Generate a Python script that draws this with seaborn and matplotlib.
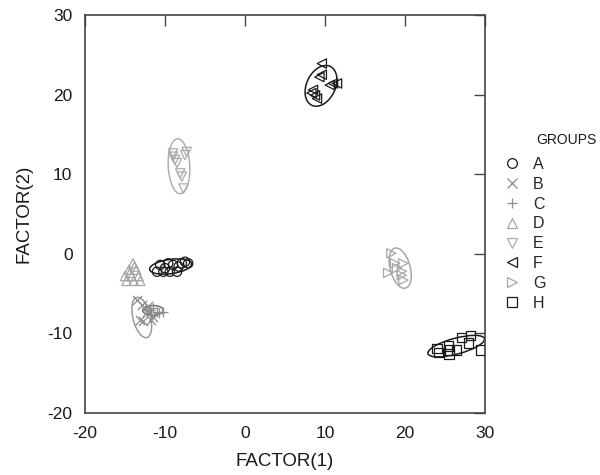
import matplotlib
matplotlib.use("Agg")
import matplotlib.pyplot as plt
from matplotlib.patches import Ellipse
from matplotlib.lines import Line2D
import seaborn as sns
import pandas as pd

# ---- data ----
groups = ["A", "B", "C", "D", "E", "F", "G", "H"]

a_x = [-11.0, -10.6, -10.0, -9.4, -9.0, -8.3, -7.9, -7.5, -7.1, -8.5, -10.2, -9.6]
a_y = [-2.25, -1.4, -1.8, -2.25, -1.4, -1.6, -1.2, -1.0, -1.2, -2.25, -2.25, -1.2]
b_x = [-13.5, -12.9, -13.1, -12.7, -11.7, -11.5, -12.1, -12.3]
b_y = [-5.8, -6.4, -8.3, -8.5, -8.3, -7.9, -6.6, -7.3]
c_x = [-11.9, -11.0, -10.2, -11.5, -11.7, -10.8]
c_y = [-7.1, -7.3, -7.3, -6.8, -7.7, -7.5]
d_x = [-14.0, -14.5, -13.6, -15.0, -14.2, -13.3, -14.8, -13.9, -13.1, -14.4, -13.8]
d_y = [-1.2, -2.0, -2.0, -2.8, -2.8, -2.8, -3.4, -3.4, -3.4, -2.4, -1.6]
e_x = [-9.0, -8.75, -7.3, -7.5, -8.5, -8.1, -7.9, -7.7, -9.0]
e_y = [12.2, 11.8, 12.8, 12.4, 11.4, 10.1, 9.7, 8.2, 12.6]
f_x = [9.6, 9.6, 9.3, 10.6, 11.0, 11.5, 8.5, 8.75, 9.0, 8.3]
f_y = [23.9, 22.5, 22.2, 21.2, 21.4, 21.4, 20.6, 19.9, 19.5, 20.2]
g_x = [18.3, 18.75, 19.8, 19.0, 17.9, 19.6, 19.8, 19.6]
g_y = [0.06, -1.2, -1.2, -1.8, -2.4, -2.7, -3.3, -2.2]
h_x = [24.0, 24.2, 25.4, 25.5, 26.4, 27.1, 28.2, 27.9, 29.4, 25.6]
h_y = [-11.9, -12.4, -11.6, -12.6, -12.1, -10.5, -10.3, -11.2, -12.1, -12.1]

# ellipses: group, center x, center y, major, minor, angle
ell_group = ["A", "B", "C", "E", "F", "G", "H"]
ell_cx = [-9.3, -12.9, -11.5, -8.25, 9.5, 19.4, 26.4]
ell_cy = [-1.6, -8.0, -7.1, 11.0, 21.1, -1.8, -11.6]
ell_w = [5.3, 5.2, 2.6, 6.9, 5.4, 5.2, 7.3]
ell_h = [1.8, 2.2, 1.2, 2.7, 3.6, 2.5, 2.0]
ell_ang = [8, 104, 0, 93, 65, 105, 15]

xticks = [-20, -10, 0, 10, 20, 30]
yticks = [-20, -10, 0, 10, 20, 30]

# ---- styles ----
markers = {"A": "o", "B": "x", "C": "+", "D": "^", "E": "v", "F": "<", "G": ">", "H": "s"}
colors = {"A": "#1a1a1a", "B": "#8c8c8c", "C": "#8c8c8c", "D": "#a6a6a6",
          "E": "#ababab", "F": "#1a1a1a", "G": "#a6a6a6", "H": "#1a1a1a"}
ell_colors = {"A": "#1a1a1a", "B": "#9a9a9a", "C": "#6e6e6e", "E": "#b0b0b0",
              "F": "#1a1a1a", "G": "#a6a6a6", "H": "#1a1a1a"}

xs = [a_x, b_x, c_x, d_x, e_x, f_x, g_x, h_x]
ys = [a_y, b_y, c_y, d_y, e_y, f_y, g_y, h_y]
frames = []
for g, x, y in zip(groups, xs, ys):
    frames.append(pd.DataFrame({"x": x, "y": y, "group": g}))
df = pd.concat(frames, ignore_index=True)

sns.set_style("white")
plt.rcParams["font.family"] = ["Liberation Sans", "DejaVu Sans"]
plt.rcParams["axes.unicode_minus"] = False

fig = plt.figure(figsize=(6, 4.75), dpi=100)
ax = fig.add_axes([85 / 600, 1 - 413 / 475, 400 / 600, 398 / 475])

for g in groups:
    sub = df[df["group"] == g]
    sns.scatterplot(data=sub, x="x", y="y", marker=markers[g], s=45, ax=ax,
                    color=colors[g], linewidth=0.9, legend=False, zorder=3)
    coll = ax.collections[-1]
    if markers[g] not in ("x", "+"):
        coll.set_facecolor("none")
    coll.set_edgecolor(colors[g])

for g, cx, cy, w, h, a in zip(ell_group, ell_cx, ell_cy, ell_w, ell_h, ell_ang):
    ax.add_patch(Ellipse((cx, cy), w, h, angle=a, fill=False,
                         edgecolor=ell_colors[g], linewidth=1.1, zorder=2))

ax.set_xlim(-20, 30)
ax.set_ylim(-20, 30)
ax.set_xticks(xticks)
ax.set_yticks(yticks)
ax.tick_params(direction="in", length=8, width=1.0, color="#444444",
               top=True, right=True, labelsize=12.5, pad=9, labelcolor="#1a1a1a")
for sp in ax.spines.values():
    sp.set_visible(True)
    sp.set_color("#444444")
    sp.set_linewidth(1.2)
ax.set_xlabel("FACTOR(1)", fontsize=13.5, color="#1a1a1a", labelpad=9)
ax.set_ylabel("FACTOR(2)", fontsize=13.5, color="#1a1a1a", labelpad=11)

handles = [Line2D([], [], linestyle="none", marker=markers[g], markersize=7,
                  markerfacecolor="none", markeredgecolor=colors[g],
                  color=colors[g], markeredgewidth=0.9) for g in groups]
leg = fig.legend(handles, groups, frameon=False,
                 loc="upper left", bbox_to_anchor=(502 / 600, 1 - 157 / 475),
                 fontsize=11.5, handletextpad=0.75, borderpad=0, borderaxespad=0,
                 labelspacing=0.3, handlelength=1.2)
fig.text(566 / 600, 1 - 140 / 475, "GROUPS", ha="center", va="center",
         fontsize=10, color="#1a1a1a")

fig.savefig("out.png", dpi=100)
